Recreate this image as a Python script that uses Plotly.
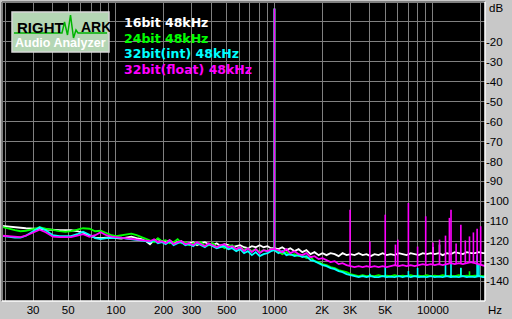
import plotly.graph_objects as go

# ---------------- data ----------------
freq = [19, 21, 23, 25, 27, 30, 33, 36, 40, 44, 48, 52, 57, 62, 68, 74, 80, 87, 94, 100,
        108, 116, 125, 135, 145,
        155, 164, 174, 184, 195, 206, 218, 231, 245, 259, 274, 290, 307, 325, 344, 364,
        385, 408, 432, 457, 484, 512, 542, 574, 607, 643, 680, 720, 762, 807, 854, 904, 950,
        1000, 1060, 1120, 1190, 1260, 1340, 1420, 1500, 1590, 1690, 1790, 1900, 2010, 2130,
        2260, 2400, 2540, 2690, 2850, 3020, 3200, 3400, 3600, 3810, 4040, 4280, 4540, 4810,
        5100, 5410, 5730, 6080, 6440, 6830, 7240, 7670, 8130, 8620, 9140, 9690, 10270, 10880,
        11530, 12230, 12960, 13740, 14560, 15440, 16360, 17340, 18390, 19490, 20660, 21500]

db_16bit = [-112.25, -112.75, -113, -113.25, -113.5, -113.75, -114, -114.25, -114.5, -114.5,
            -114.5, -114.5, -115, -115.75, -117.25, -118.25, -118.5, -118.25, -118, -118.5,
            -118.75, -118.25, -117.75, -118.5, -119,
            -120, -121.5, -119.5, -119, -120, -120.5, -119.5, -121, -120.5, -120, -121.5, -121,
            -120.5, -122, -121, -120.5, -121.5, -122, -121, -122.5, -121.5, -122, -123, -122.5,
            -122, -123, -123.5, -122.5, -123, -122, -123, -122.5, -123.5,
            -123.5, -124, -123, -124.5, -123.5, -125, -124, -125.5, -124.5, -126.5, -125.5, -127,
            -126, -127, -126, -126.5, -127.5, -126, -127, -126.5, -127, -126, -127, -126.5,
            -127.5, -126.5, -127, -126, -127, -126.5, -127, -126, -126.5, -127, -126, -126.5,
            -127, -126, -126.5, -126, -126.5, -126, -127, -126, -126.5, -125.5, -126, -126.5,
            -125.5, -126, -126, -125.5, -126, -126]

db_24bit = [-112.75, -113.75, -114.5, -115, -114.75, -114, -113, -113.75, -114.5, -115,
            -115.25, -115, -114.25, -113.5, -113.75, -115, -114.75, -116, -117, -117.5,
            -117, -116.75, -116.25, -117, -118,
            -119, -119.5, -120.5, -118.5, -120, -119.5, -121, -120.5, -119, -121, -120.5, -122,
            -121, -121.5, -120.5, -122.5, -122, -121, -123, -122, -123.5, -122.5, -122, -124,
            -123, -124.5, -123.5, -125, -124, -125.5, -124.5, -125, -124,
            -124, -125, -126.5, -125.5, -127, -126.5, -127.5, -127, -128.5, -128, -130, -130.5,
            -131.5, -132, -133, -133.5, -134.5, -135, -135.5, -136.5, -137, -137.5, -137, -137.5,
            -137.25, -137.5, -137, -137.5, -137.25, -137.5, -137, -137.5, -137.25, -137.5, -137,
            -137.5, -137.25, -137.5, -137, -137.5, -137.25, -137.5, -137, -137.5, -137.25, -137.5,
            -137, -137.5, -137.25, -137.5, -137.25, -137.5, -137.5, -137.5]

db_32int = [-117.25, -117.75, -118.25, -118.25, -117.25, -115, -113, -114.5, -117, -117.5,
            -117.5, -117.5, -116.5, -115.25, -116.75, -118.5, -119, -118.5, -118.5, -118.25,
            -118.25, -118.75, -119, -119.5, -119.75,
            -120, -120.5, -119.5, -121, -120.5, -121.5, -120, -122, -121, -120.5, -122, -121.5,
            -122.5, -121, -122, -123, -121.5, -122.5, -123.5, -123, -122.5, -124, -123.5, -125,
            -124, -126, -125, -127, -125.5, -127.5, -126.5, -126, -125,
            -124.5, -126, -125, -127, -126.5, -127.5, -127, -128, -127.5, -129.5, -130, -131,
            -132, -132.5, -133.5, -134, -135, -135.5, -136.5, -137, -137.5, -138, -137.5, -138,
            -137.5, -138, -138, -137.5, -138, -137.75, -138, -137.5, -138, -137.5, -138, -137.5,
            -138, -137.75, -138, -137.5, -138, -137.75, -138, -137.5, -138, -137.75, -138,
            -137.5, -138, -137.75, -138, -137.5, -138, -138]

db_32float = [-117.25, -117.5, -118, -118, -117.25, -115.75, -114.25, -115.5, -117.75, -118,
              -118, -118, -117.25, -116.5, -117.75, -117, -115.5, -117, -117.75, -118,
              -118, -118.5, -118.75, -119, -119.5,
              -119.5, -120, -119, -120.5, -120, -121, -119.5, -121.5, -120.5, -120, -121.5, -121,
              -122, -120.5, -121.5, -122.5, -121, -122, -123, -122, -121.5, -123, -122.5, -124,
              -123, -125, -123.5, -125.5, -124, -126, -124.5, -125, -124,
              -124, -124.5, -125.5, -124, -126, -125, -126.5, -127, -126, -128, -127.5, -129,
              -128.5, -129.5, -130.5, -130, -131.5, -131, -132, -132.5, -133, -132.5, -133,
              -132.5, -133, -132.5, -133, -132.5, -133, -132.5, -132, -132.5, -132, -132.5, -132,
              -132.5, -132, -131.5, -132, -131.5, -132, -131.5, -132, -131.5, -131, -131.5, -131,
              -131.5, -131, -130.5, -131, -131.5, -132, -132.5]

# harmonic / spur peaks: frequency, peak level, and the floor they rise from
spike_16bit_f = [1000, 10000, 11000]
spike_16bit_top = [-3.3, -122.9, -121.7]
spike_16bit_base = [-124, -126.3, -126.3]

spike_24bit_f = [1000, 15000, 17000]
spike_24bit_top = [-3.3, -133.4, -135.1]
spike_24bit_base = [-124, -137.5, -137.5]

spike_32int_f = [1000, 4000, 5000, 7000, 8000, 12000, 13000, 15000, 19000, 19500]
spike_32int_top = [-3.3, -136.3, -132.6, -135, -133.4, -131.7, -130, -133.3, -127, -131.5]
spike_32int_base = [-124, -138, -138, -138, -138, -138, -138, -138, -138, -138]

spike_32float_f = [1000, 3000, 4000, 5000, 5800, 6000, 7000, 8000, 9000, 10000, 11000,
                   12000, 12700, 13000, 14000, 15000, 16000, 17000, 18000, 19000, 20000]
spike_32float_top = [-3.3, -104.2, -120.1, -106.7, -121.7, -119.2, -100.8, -122.7, -107.5,
                     -120.7, -119.2, -117.2, -108.3, -104.2, -121.2, -111.7, -119.6, -117.6,
                     -115.6, -113.8, -112.5]
spike_32float_base = [-124, -132.5, -133, -133, -132, -132, -132.5, -132, -132, -132, -131.5,
                      -131.5, -131, -131, -131.5, -131, -131, -130.5, -131, -131.5, -132]

series_names = ["16bit 48kHz", "24bit 48kHz", "32bit(int) 48kHz", "32bit(float) 48kHz"]

x_grid = [20, 30, 40, 50, 60, 70, 80, 90, 100, 200, 300, 400, 500, 600, 700, 800, 900,
          1000, 2000, 3000, 4000, 5000, 6000, 7000, 8000, 9000, 10000, 20000]
x_labels = {30: "30", 50: "50", 100: "100", 200: "200", 300: "300", 500: "500",
            1000: "1000", 2000: "2K", 3000: "3K", 5000: "5K", 10000: "10000"}
y_grid = [-10, -20, -30, -40, -50, -60, -70, -80, -90, -100, -110, -120, -130, -140]

for arr in (db_16bit, db_24bit, db_32int, db_32float):
    assert len(arr) == len(freq), (len(arr), len(freq))

# ---------------- figure ----------------
colors = ["#ffffff", "#00ff00", "#00ffff", "#ff00ff"]
curves = [db_16bit, db_24bit, db_32int, db_32float]
spikes = [(spike_16bit_f, spike_16bit_top, spike_16bit_base),
          (spike_24bit_f, spike_24bit_top, spike_24bit_base),
          (spike_32int_f, spike_32int_top, spike_32int_base),
          (spike_32float_f, spike_32float_top, spike_32float_base)]

fig = go.Figure()
for name, col, ys, (sf, st, sb) in zip(series_names, colors, curves, spikes):
    fig.add_trace(go.Scatter(x=freq, y=ys, mode="lines", name=name,
                             line=dict(color=col, width=1.8), hoverinfo="skip"))
    sx, sy = [], []
    for f, t, b in zip(sf, st, sb):
        sx += [f, f, None]
        sy += [b, t, None]
    fig.add_trace(go.Scatter(x=sx, y=sy, mode="lines", name=name + " peaks",
                             line=dict(color=col, width=1.6), hoverinfo="skip"))

W, H = 512, 319
L, R, T, B = 2, 27, 2, 18
PW, PH = W - L - R, H - T - B


def px(x):
    return (x - L) / PW


def py(y):
    return (H - B - y) / PH


axis_font = dict(family="Arial, Liberation Sans, sans-serif", size=11.5, color="#000000")

fig.update_layout(
    width=W, height=H,
    margin=dict(l=L, r=R, t=T, b=B, pad=0),
    paper_bgcolor="#c8c8c8",
    plot_bgcolor="#000000",
    showlegend=False,
    xaxis=dict(type="log", range=[1.281, 4.3284], tickmode="array",
               tickvals=x_grid, ticktext=[x_labels.get(v, "") for v in x_grid],
               showgrid=True, gridcolor="#808080", gridwidth=1, zeroline=False,
               showline=False, ticks="", tickfont=axis_font, fixedrange=True),
    yaxis=dict(range=[-150, 0], side="right", tickmode="array", tickvals=y_grid,
               ticktext=["" if v == -10 else str(v) for v in y_grid],
               showgrid=True, gridcolor="#808080", gridwidth=1, zeroline=False,
               showline=False, ticks="", tickfont=axis_font, fixedrange=True),
)

# sunken frame around plot area
shapes = [
    dict(type="line", xref="paper", yref="paper", x0=0, x1=1, y0=1, y1=1,
         line=dict(color="#808080", width=2)),
    dict(type="line", xref="paper", yref="paper", x0=0, x1=0, y0=0, y1=1,
         line=dict(color="#808080", width=2)),
    dict(type="line", xref="paper", yref="paper", x0=0, x1=1, y0=0, y1=0,
         line=dict(color="#ffffff", width=1.5)),
    dict(type="line", xref="paper", yref="paper", x0=1, x1=1, y0=0, y1=1,
         line=dict(color="#ffffff", width=1.5)),
]

# RightMark logo box
shapes.append(dict(type="rect", xref="paper", yref="paper",
                   x0=px(12), x1=px(109), y0=py(52), y1=py(12),
                   fillcolor="#b4d6b4", line=dict(color="#d8d8d8", width=1.5), layer="above"))
wave = [(14, 33), (62, 33), (64.5, 22), (67.5, 35), (70.5, 15), (73.5, 38), (76, 30), (78, 33), (107, 33)]
path = "M " + " L ".join(f"{px(a):.5f},{py(b):.5f}" for a, b in wave)
shapes.append(dict(type="path", xref="paper", yref="paper", path=path,
                   line=dict(color="#00b400", width=1.5), layer="above"))

annotations = [
    dict(text="<b>RIGHT</b>", x=px(15), y=py(27), xref="paper", yref="paper",
         xanchor="left", yanchor="middle", showarrow=False,
         font=dict(family="Arial, Liberation Sans", size=15, color="#000000")),
    dict(text="<b>ARK</b>", x=px(79), y=py(27), xref="paper", yref="paper",
         xanchor="left", yanchor="middle", showarrow=False,
         font=dict(family="Arial, Liberation Sans", size=14, color="#000000")),
    dict(text="<b>Audio Analyzer</b>", x=px(60.5), y=py(43), xref="paper", yref="paper",
         xanchor="center", yanchor="middle", showarrow=False,
         font=dict(family="Arial, Liberation Sans", size=12.5, color="#ffffff")),
    dict(text="dB", x=px(487), y=py(8), xref="paper", yref="paper",
         xanchor="left", yanchor="middle", showarrow=False, font=axis_font),
    dict(text="Hz", x=px(486), y=py(310), xref="paper", yref="paper",
         xanchor="left", yanchor="middle", showarrow=False, font=axis_font),
]
legend_y = [22.5, 38, 53.5, 69.5]
for name, col, yy in zip(series_names, colors, legend_y):
    annotations.append(dict(text="<b>" + name + "</b>", x=px(122), y=py(yy), xref="paper",
                            yref="paper", xanchor="left", yanchor="middle", showarrow=False,
                            font=dict(family="DejaVu Sans", size=12.5, color=col)))

fig.update_layout(shapes=shapes, annotations=annotations)
fig.write_html("out.html")
